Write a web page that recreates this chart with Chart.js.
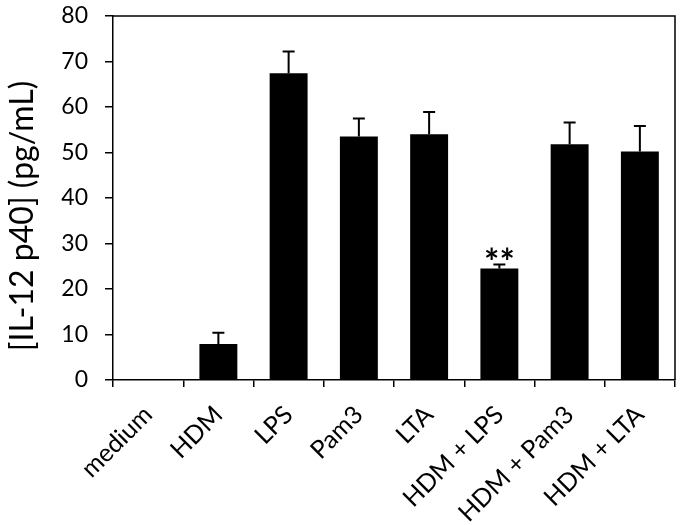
<!DOCTYPE html>
<html>
<head>
<meta charset="utf-8">
<script src="https://cdn.jsdelivr.net/npm/chart.js@4.4.1/dist/chart.umd.min.js"></script>
<style>
  html, body { margin:0; padding:0; background:#fff; }
  #wrap { width:683px; height:525px; }
</style>
</head>
<body>
<div id="wrap"><canvas id="c"></canvas></div>
<script>
const labels = ['medium','HDM','LPS','Pam3','LTA','HDM + LPS','HDM + Pam3','HDM + LTA']
const means  = [0, 7.9, 67.4, 53.5, 54.0, 24.5, 51.8, 50.2]
const errUp  = [0, 2.5, 4.8, 4.0, 4.9, 0.9, 4.8, 5.6]
const marks  = ['', '', '', '', '', '**', '', '']
const yTicks = [0,10,20,30,40,50,60,70,80]
const yTitle = '[IL-12 p40] (pg/mL)'

const FONT = 'Lato'

// frame on top and right of the plot area, plus the y title
const frame = {
  id:'frame',
  afterDraw(chart) {
    const {ctx, chartArea:a} = chart
    ctx.save()
    ctx.strokeStyle = '#000'
    ctx.lineWidth = 1.5
    ctx.beginPath()
    ctx.moveTo(a.left, a.top); ctx.lineTo(a.right, a.top); ctx.lineTo(a.right, a.bottom)
    ctx.stroke()
    ctx.translate(23, 216)
    ctx.rotate(-Math.PI / 2)
    ctx.fillStyle = '#000'
    ctx.font = `32px ${FONT}`
    ctx.textAlign = 'center'
    ctx.textBaseline = 'middle'
    ctx.fillText(yTitle, 0, 0)
    ctx.restore()
  }
}

// upward error bars + significance stars
const errorBars = {
  id:'errorBars',
  afterDatasetsDraw(chart) {
    const {ctx, scales:{y}} = chart
    const meta = chart.getDatasetMeta(0)
    ctx.save()
    ctx.strokeStyle = '#000'
    ctx.lineWidth = 2
    meta.data.forEach((bar, i) => {
      if (!errUp[i]) return
      const cx = bar.x
      const y0 = y.getPixelForValue(means[i])
      const y1 = y.getPixelForValue(means[i] + errUp[i])
      ctx.beginPath()
      ctx.moveTo(cx, y0); ctx.lineTo(cx, y1)
      ctx.moveTo(cx - 6, y1); ctx.lineTo(cx + 6, y1)
      ctx.stroke()
      if (marks[i]) {
        ctx.fillStyle = '#000'
        ctx.font = `bold 36px ${FONT}`
        ctx.textAlign = 'center'
        ctx.textBaseline = 'alphabetic'
        ctx.fillText(marks[i], cx, y1 + 11)
      }
    })
    ctx.restore()
  }
}

new Chart(document.getElementById('c'), {
  type:'bar',
  data:{
    labels,
    datasets:[{ data:means, backgroundColor:'#000', borderWidth:0, categoryPercentage:1, barPercentage:0.54 }]
  },
  options:{
    responsive:true, maintainAspectRatio:false, animation:false,
    layout:{ padding:{ top:16, right:8, left:4, bottom:0 } },
    plugins:{ legend:{display:false}, tooltip:{enabled:false} },
    scales:{
      x:{
        afterFit(s) { s.height = 145; s.paddingLeft = 0; s.paddingRight = 0 },
        grid:{ offset:true, drawOnChartArea:false, drawTicks:true, tickLength:7, color:'#000', lineWidth:1.5 },
        border:{ display:true, color:'#000', width:1.5 },
        ticks:{ color:'#000', font:{family:FONT, size:25}, minRotation:45, maxRotation:45, autoSkip:false, padding:13 }
      },
      y:{
        min:0, max:80,
        afterFit(s) { s.width = 109; s.paddingTop = 0; s.paddingBottom = 0 },
        afterBuildTicks(s) { s.ticks = yTicks.map(v => ({value:v})) },
        grid:{ drawOnChartArea:false, drawTicks:true, tickLength:8, color:'#000', lineWidth:1.5 },
        border:{ display:true, color:'#000', width:1.5 },
        ticks:{ color:'#000', font:{family:FONT, size:23}, padding:17 }
      }
    }
  },
  plugins:[frame, errorBars]
})
</script>
</body>
</html>
